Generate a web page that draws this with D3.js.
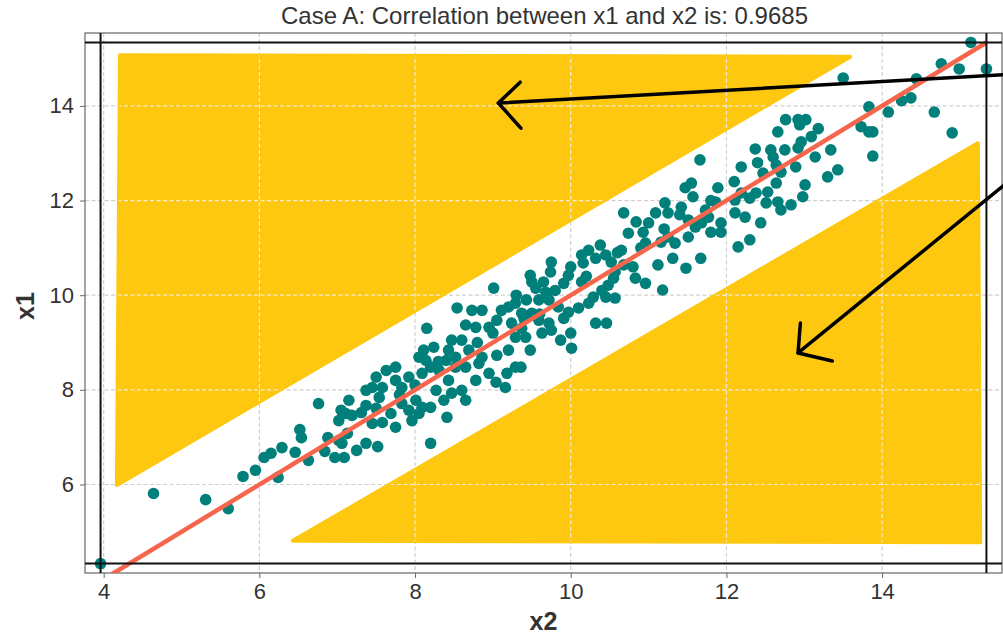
<!DOCTYPE html>
<html><head><meta charset="utf-8">
<script src="https://cdn.jsdelivr.net/npm/d3@7"></script>
<style>body{margin:0;background:#fff}svg{display:block}</style>
</head><body>
<svg id="chart" width="1003" height="637"></svg>
<script>
// ---- data ----
const x2Vals = [
 3.96,4.64,5.31,5.60,5.79,5.95,6.06,6.15,6.29,6.46,6.52,6.54,6.63,6.24,6.84,6.76,6.88,6.97,7.09,7.06,7.25,7.37,7.52,7.45,7.58,7.02,7.11,7.05,7.19,7.31,7.37,7.15,7.50,7.69,7.75,7.13,7.02,
 10.68,10.84,10.74,10.93,10.96,10.83,10.96,10.38,10.23,10.14,10.16,10.32,10.45,10.52,10.65,10.68,10.57,10.55,10.48,10.45,10.57,10.29,10.23,10.14,9.97,9.91,
 9.75,9.74,9.65,9.68,9.55,9.48,9.50,9.43,9.59,9.72,9.84,9.97,10.10,9.91,10.00,10.01,9.87,10.32,10.46,9.72,9.59,9.50,9.37,9.29,9.20,9.11,
 9.01,8.86,8.73,8.54,8.65,8.78,8.95,9.05,9.24,9.37,9.29,9.42,9.63,9.75,9.48,9.20,9.05,8.86,8.69,8.60,8.47,8.43,8.52,8.40,8.24,8.15,
 8.11,8.05,8.14,8.20,8.09,8.31,8.52,8.65,8.82,8.95,9.04,9.18,9.29,9.36,9.16,8.78,8.60,8.65,8.43,8.47,8.37,8.27,8.20,8.41,8.20,7.92,
 7.83,7.75,7.75,7.63,7.50,7.58,7.45,7.37,7.54,7.83,8.01,7.92,8.05,7.96,8.09,
 13.50,12.76,12.92,13.02,12.94,12.66,13.18,13.09,12.96,12.92,13.34,13.14,12.75,12.60,12.37,12.57,12.19,12.47,12.64,12.70,12.89,13.30,13.43,
 13.01,12.98,12.64,12.53,12.66,12.83,12.70,12.51,12.38,12.30,12.19,12.11,12.11,12.24,12.30,12.44,12.15,
 11.66,11.55,11.47,11.57,11.89,11.86,11.73,11.77,11.93,11.93,11.80,11.68,11.60,11.51,11.42,11.21,11.25,11.09,11.16,11.34,11.25,11.51,11.00,
 15.14,14.76,14.99,15.34,14.44,14.37,14.25,13.83,14.08,14.67,13.73,13.83,13.88,14.90,13.88,
 11.12,11.31,11.48,11.67,11.18,
 9.30,9.80,10.20,10.60,10.90,11.20,9.00,8.80,9.60,10.40,10.80,11.40,11.80,12.10,12.40,8.30,8.00,7.80,10.00,9.40
];
const x1Vals = [
 4.33,5.81,5.68,5.49,6.17,6.30,6.57,6.66,6.78,6.68,7.16,6.99,6.51,6.15,6.70,7.71,6.99,6.57,6.57,6.87,6.72,6.87,6.80,7.29,7.31,7.35,7.50,7.57,7.46,7.52,7.67,7.78,7.61,7.50,7.21,7.08,6.93,
 11.74,11.55,11.31,11.33,11.10,10.36,10.25,11.06,10.95,10.85,10.68,10.78,10.85,10.70,10.95,10.64,10.49,10.36,10.21,9.96,9.94,9.96,9.83,10.28,10.42,10.25,
 10.70,10.49,10.28,10.06,10.15,10.42,10.28,9.90,9.90,9.90,9.75,9.64,9.73,9.51,9.20,8.88,9.05,9.41,9.41,9.41,9.47,9.62,9.62,9.83,9.75,9.68,
 10.15,9.68,9.68,9.73,9.37,9.32,9.32,9.47,9.41,9.30,9.11,9.11,9.20,9.26,8.84,8.84,8.73,8.69,8.84,9.05,9.05,8.84,8.69,8.62,8.90,9.30,
 8.84,8.69,8.62,8.48,8.35,8.41,8.48,8.48,8.56,8.35,8.16,8.35,8.48,8.48,8.05,8.20,7.99,7.78,8.20,7.93,7.78,7.99,7.63,7.42,6.87,8.27,
 8.05,8.20,8.48,8.41,8.27,8.05,8.05,7.99,7.84,7.71,7.78,7.57,7.50,7.35,7.63,
 14.59,13.71,13.71,13.71,13.60,13.45,13.52,13.35,13.24,13.11,13.07,12.92,13.07,12.92,13.09,13.07,12.71,12.58,12.75,12.60,12.71,12.50,12.65,
 12.33,12.08,12.37,12.18,11.97,11.91,11.80,11.95,12.16,12.05,12.16,12.01,11.74,11.65,11.17,11.53,11.02,
 12.86,12.37,12.27,12.08,12.27,11.97,11.80,11.65,11.53,11.33,11.33,11.53,11.44,11.23,11.86,11.95,11.74,11.74,11.12,11.10,11.23,11.59,11.53,
 15.34,14.89,14.78,14.78,14.57,14.17,14.11,13.98,13.87,13.87,13.56,13.45,13.45,13.43,12.94,
 10.64,10.78,10.57,10.78,10.11,
 10.00,10.10,10.40,10.90,11.00,11.40,9.20,9.00,9.60,10.10,10.60,11.70,12.00,12.40,12.80,8.60,8.10,7.90,10.60,9.50
];
const xTicks = [4, 6, 8, 10, 12, 14];
const yTicks = [6, 8, 10, 12, 14];
const titleText = "Case A: Correlation between x1 and x2 is: 0.9685";
const xLabel = "x2", yLabel = "x1";
const fitLineX = [3.96, 15.34];
const fitLineY = [3.96, 15.34];
// highlighted (yellow) zones, data coordinates
const upperZoneX = [4.21, 13.59, 4.17];
const upperZoneY = [15.07, 15.04, 5.99];
const lowerZoneX = [6.43, 15.26, 15.23];
const lowerZoneY = [4.81, 4.78, 13.21];
// hand-drawn arrows: tail, tip, two head ends (data coordinates)
const arrowAX = [15.6, 9.07, 9.35, 9.36];
const arrowAY = [14.66, 14.06, 14.50, 13.53];
const arrowBX = [15.6, 12.92, 12.95, 13.36];
const arrowBY = [12.37, 8.78, 9.41, 8.61];

// ---- layout ----
const L = 85, R = 1002, T = 33, B = 573;
const svg = d3.select("#chart");
const FONT = "'Liberation Sans', Arial, Helvetica, sans-serif";
const pad = 0.2;
const x = d3.scaleLinear().domain([d3.min(x2Vals) - pad, d3.max(x2Vals) + pad]).range([L, R]);
const y = d3.scaleLinear().domain([d3.min(x1Vals) - pad, d3.max(x1Vals) + pad]).range([B, T]);

svg.append("defs").append("clipPath").attr("id", "plotclip")
  .append("rect").attr("x", L).attr("y", T).attr("width", R - L).attr("height", B - T);

const zones = [[upperZoneX, upperZoneY], [lowerZoneX, lowerZoneY]];
const zonePath = z => z[0].map((v, i) => [x(v), y(z[1][i])]);

const zoneClip = svg.select("defs").append("clipPath").attr("id", "zoneclip");
zones.forEach(z => zoneClip.append("polygon").attr("points", zonePath(z).map(p => p.join(",")).join(" ")));

function grid(g, color) {
  g.selectAll("line.v").data(xTicks).join("line").attr("class", "v")
    .attr("x1", d => x(d)).attr("x2", d => x(d)).attr("y1", T).attr("y2", B)
    .attr("stroke", color).attr("stroke-width", 1.2).attr("stroke-dasharray", "4,2.5");
  g.selectAll("line.h").data(yTicks).join("line").attr("class", "h")
    .attr("y1", d => y(d)).attr("y2", d => y(d)).attr("x1", L).attr("x2", R)
    .attr("stroke", color).attr("stroke-width", 1.2).attr("stroke-dasharray", "4,2.5");
}
grid(svg.append("g"), "#cfcfcf");

svg.append("g").selectAll("polygon").data(zones).join("polygon")
  .attr("points", z => zonePath(z).map(p => p.join(",")).join(" "))
  .attr("fill", "#fdc80f").attr("stroke", "#fdc80f").attr("stroke-width", 4).attr("stroke-linejoin", "round");

grid(svg.append("g").attr("clip-path", "url(#zoneclip)"), "#f4ecd6");

// axes
const xAxis = svg.append("g").attr("transform", `translate(0,${B})`)
  .call(d3.axisBottom(x).tickValues(xTicks).tickSize(5).tickSizeOuter(0).tickPadding(5).tickFormat(d3.format("d")));
const yAxis = svg.append("g").attr("transform", `translate(${L},0)`)
  .call(d3.axisLeft(y).tickValues(yTicks).tickSize(5).tickSizeOuter(0).tickPadding(6).tickFormat(d3.format("d")));
[xAxis, yAxis].forEach(a => {
  a.select(".domain").remove();
  a.selectAll(".tick line").attr("stroke", "#666");
  a.selectAll(".tick text").attr("fill", "#333").style("font-family", FONT).style("font-size", "22px");
});

svg.append("rect").attr("x", L).attr("y", T).attr("width", R - L).attr("height", B - T)
  .attr("fill", "none").attr("stroke", "#666").attr("stroke-width", 1.2);

const plot = svg.append("g").attr("clip-path", "url(#plotclip)");

plot.append("g").selectAll("circle").data(x2Vals.map((v, i) => [v, x1Vals[i]])).join("circle")
  .attr("cx", d => x(d[0])).attr("cy", d => y(d[1])).attr("r", 5.8).attr("fill", "#007f7b");

plot.append("line")
  .attr("x1", x(fitLineX[0])).attr("y1", y(fitLineY[0]))
  .attr("x2", x(fitLineX[1])).attr("y2", y(fitLineY[1]))
  .attr("stroke", "#f5664d").attr("stroke-width", 4.5);

const xmin = d3.min(x2Vals), xmax = d3.max(x2Vals), ymin = d3.min(x1Vals), ymax = d3.max(x1Vals);
[xmin, xmax].forEach(v => plot.append("line").attr("x1", x(v)).attr("x2", x(v)).attr("y1", T).attr("y2", B)
  .attr("stroke", "#111").attr("stroke-width", 2));
[ymin, ymax].forEach(v => plot.append("line").attr("y1", y(v)).attr("y2", y(v)).attr("x1", L).attr("x2", R)
  .attr("stroke", "#111").attr("stroke-width", 2));

function arrow(ax, ay) {
  const g = svg.append("g").attr("stroke", "#000").attr("stroke-width", 3.5).attr("stroke-linecap", "round").attr("fill", "none");
  g.append("line").attr("x1", x(ax[0])).attr("y1", y(ay[0])).attr("x2", x(ax[1])).attr("y2", y(ay[1]));
  g.append("polyline").attr("stroke-linejoin", "round")
    .attr("points", [[ax[2], ay[2]], [ax[1], ay[1]], [ax[3], ay[3]]].map(p => [x(p[0]), y(p[1])].join(",")).join(" "));
}
arrow(arrowAX, arrowAY);
arrow(arrowBX, arrowBY);

svg.append("text").attr("x", (L + R) / 2 + 1).attr("y", 24).attr("text-anchor", "middle")
  .style("font-family", FONT).style("font-size", "24px").attr("fill", "#333").text(titleText);
svg.append("text").attr("x", (L + R) / 2).attr("y", 630).attr("text-anchor", "middle")
  .style("font-family", FONT).style("font-size", "25px").style("font-weight", "bold").attr("fill", "#333").text(xLabel);
svg.append("text").attr("transform", `translate(34,${(T + B) / 2 + 3}) rotate(-90)`).attr("text-anchor", "middle")
  .style("font-family", FONT).style("font-size", "25px").style("font-weight", "bold").attr("fill", "#333").text(yLabel);
</script>
</body></html>
